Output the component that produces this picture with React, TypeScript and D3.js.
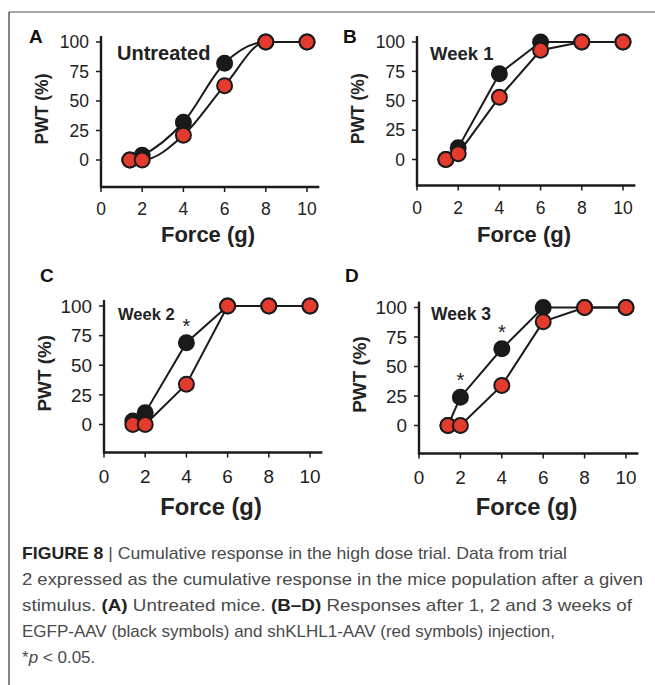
import React from 'react';
import * as d3 from 'd3';

// forces applied (g)
const forces = [1.4, 2, 4, 6, 8, 10];

// PWT (%) per panel, black = EGFP-AAV, red = shKLHL1-AAV
const blackA = [0, 4, 32, 82, 100, 100];
const redA = [0, 0, 21, 63, 100, 100];
const blackB = [0, 10, 73, 100, 100, 100];
const redB = [0, 5, 53, 93, 100, 100];
const blackC = [3, 10, 69, 100, 100, 100];
const redC = [0, 0, 34, 100, 100, 100];
const blackD = [0, 24, 65, 100, 100, 100];
const redD = [0, 0, 34, 88, 100, 100];

// significance marks (index into forces)
const starsC = [2];
const starsD = [1, 2];

const panelLetters = ['A', 'B', 'C', 'D'];
const panelTitles = ['Untreated', 'Week 1', 'Week 2', 'Week 3'];
const yTicks = [0, 25, 50, 75, 100];
const xTicks = [0, 2, 4, 6, 8, 10];

const captionLines = [
  [{ t: 'FIGURE 8', b: true }, { t: ' | ', b: false }, { t: 'Cumulative response in the high dose trial. Data from trial', b: false }],
  [{ t: '2 expressed as the cumulative response in the mice population after a given', b: false }],
  [{ t: 'stimulus. ', b: false }, { t: '(A)', b: true }, { t: ' Untreated mice. ', b: false }, { t: '(B–D)', b: true }, { t: ' Responses after 1, 2 and 3 weeks of', b: false }],
  [{ t: 'EGFP-AAV (black symbols) and shKLHL1-AAV (red symbols) injection,', b: false }],
];
const captionWidths = [545, 621, 610, 533];

const FONT = '"Liberation Sans", Arial, Helvetica, sans-serif';
const RED = '#e33b2e';
const INK = '#1a1a1a';

interface PanelProps {
  letter: string;
  title: string;
  black: number[];
  red: number[];
  stars: number[];
  smooth: boolean;
  lay: { x0: number; x10: number; y0: number; y100: number; axisY: number; fs: number; lx: number; ly: number; tx: number; ty: number; tfs: number; xlab: number };
}

const Panel: React.FC<PanelProps> = ({ letter, title, black, red, stars, smooth, lay }) => {
  const x = d3.scaleLinear().domain([0, 10]).range([lay.x0, lay.x10]);
  const y = d3.scaleLinear().domain([0, 100]).range([lay.y0, lay.y100]);
  const line = d3.line<number>()
    .x((_, i) => x(forces[i]))
    .y(d => y(d))
    .curve(smooth ? d3.curveMonotoneX : d3.curveLinear);
  const fs = lay.fs;
  const series = [
    { vals: black, fill: INK },
    { vals: red, fill: RED },
  ];
  return (
    <g fontFamily={FONT}>
      <text x={lay.lx} y={lay.ly} fontSize={19} fontWeight="bold" fill="#111">{letter}</text>
      <text x={lay.tx} y={lay.ty} fontSize={lay.tfs} fontWeight="bold" fill="#222">{title}</text>
      {/* axes */}
      <line x1={lay.x0} x2={lay.x0} y1={y(105)} y2={lay.axisY + 1} stroke={INK} strokeWidth={2.4} />
      <line x1={lay.x0 - 1} x2={x(10.6)} y1={lay.axisY} y2={lay.axisY} stroke={INK} strokeWidth={2.4} />
      {yTicks.map(t => (
        <g key={'y' + t}>
          <line x1={lay.x0 - 5} x2={lay.x0} y1={y(t)} y2={y(t)} stroke={INK} strokeWidth={1.5} />
          <text x={lay.x0 - 12} y={y(t)} dy="0.36em" textAnchor="end" fontSize={17.5 * fs} fill="#222">{t}</text>
        </g>
      ))}
      {xTicks.map(t => (
        <g key={'x' + t}>
          <line x1={x(t)} x2={x(t)} y1={lay.axisY} y2={lay.axisY + 5} stroke={INK} strokeWidth={1.5} />
          <text x={x(t)} y={lay.axisY + 28 * fs} textAnchor="middle" fontSize={17.5 * fs} fill="#222">{t}</text>
        </g>
      ))}
      <text x={(lay.x0 + lay.x10) / 2 + 4} y={lay.xlab} textAnchor="middle" fontSize={22 * fs} fontWeight="bold" fill="#222">Force (g)</text>
      <text transform={`translate(${lay.x0 - 53},${(lay.y0 + lay.y100) / 2 + 8}) rotate(-90)`} textAnchor="middle" fontSize={17.5 * fs} fontWeight="bold" fill="#222">PWT (%)</text>
      {/* data */}
      {series.map((s, si) => (
        <g key={si}>
          <path d={line(s.vals) || ''} fill="none" stroke={INK} strokeWidth={2} />
          {s.vals.map((v, i) => (
            <circle key={i} cx={x(forces[i])} cy={y(v)} r={7.5} fill={s.fill} stroke={INK} strokeWidth={2} />
          ))}
        </g>
      ))}
      {stars.map(i => (
        <text key={'s' + i} x={x(forces[i])} y={y(black[i]) - 10} textAnchor="middle" fontSize={20} fill="#222">*</text>
      ))}
    </g>
  );
};

export default function App() {
  const layouts = [
    { x0: 101, x10: 307, y0: 160, y100: 42, axisY: 187, fs: 1, lx: 29, ly: 43, tx: 117, ty: 60, tfs: 20, xlab: 242 },
    { x0: 417, x10: 623, y0: 159.5, y100: 42, axisY: 185.5, fs: 1, lx: 343, ly: 43, tx: 430, ty: 60, tfs: 18.5, xlab: 242 },
    { x0: 104, x10: 310, y0: 424.5, y100: 306, axisY: 452.5, fs: 1.08, lx: 40, ly: 282, tx: 118, ty: 320, tfs: 16.5, xlab: 515 },
    { x0: 419, x10: 626, y0: 425.5, y100: 307.5, axisY: 453.5, fs: 1.08, lx: 345, ly: 282, tx: 431, ty: 320, tfs: 17.5, xlab: 515 },
  ];
  const data = [
    { black: blackA, red: redA, stars: [] as number[], smooth: true },
    { black: blackB, red: redB, stars: [] as number[], smooth: false },
    { black: blackC, red: redC, stars: starsC, smooth: false },
    { black: blackD, red: redD, stars: starsD, smooth: false },
  ];
  return (
    <div style={{ position: 'absolute', left: 0, top: 0 }}>
      <svg width={655} height={685} style={{ display: 'block', background: '#fff' }}>
        <line x1={9} x2={655} y1={12} y2={12} stroke="#8a8a8a" strokeWidth={1.5} />
        <line x1={9} x2={9} y1={12} y2={685} stroke="#333" strokeWidth={1.2} />
        {data.map((d, i) => (
          <Panel key={i} letter={panelLetters[i]} title={panelTitles[i]} black={d.black} red={d.red} stars={d.stars} smooth={d.smooth} lay={layouts[i]} />
        ))}
        <g fontFamily={FONT} fontSize={17} fill="#4a4a4a">
          {captionLines.map((ln, i) => (
            <text key={i} x={22} y={559 + i * 26} textLength={captionWidths[i]} lengthAdjust="spacingAndGlyphs">
              {ln.map((s, j) => (
                <tspan key={j} fontWeight={s.b ? 'bold' : 'normal'} fill={s.b ? '#222' : '#4a4a4a'}>{s.t}</tspan>
              ))}
            </text>
          ))}
          <text x={22} y={559 + 4 * 26}>
            <tspan>*</tspan><tspan fontStyle="italic">p</tspan><tspan>{' < 0.05.'}</tspan>
          </text>
        </g>
      </svg>
    </div>
  );
}
